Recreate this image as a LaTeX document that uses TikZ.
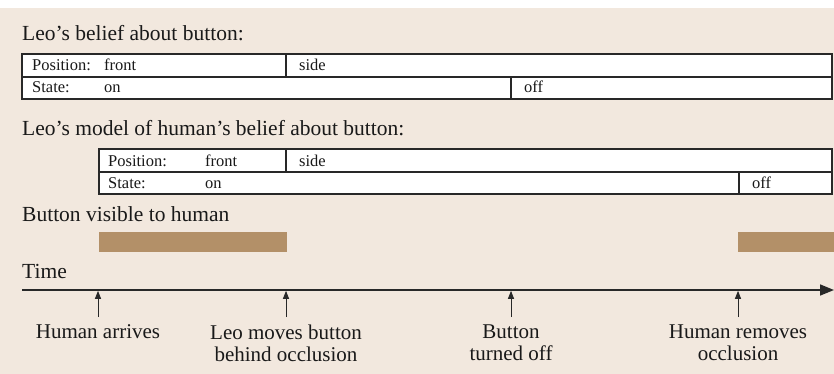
\documentclass[tikz,border=0pt]{standalone}
\usepackage{fontspec}
\setmainfont{Liberation Serif}
\usetikzlibrary{arrows.meta}
\definecolor{bg}{RGB}{242,232,222}
\definecolor{barc}{RGB}{179,144,104}
\definecolor{ln}{RGB}{40,40,40}
\definecolor{txt}{RGB}{25,25,25}
\begin{document}
\begin{tikzpicture}[x=1pt,y=-1pt,
  cell/.style={draw=ln, line width=1.1pt, fill=white},
  head/.style={anchor=base west, font=\fontsize{21.5}{24}\selectfont, inner sep=0pt, text=txt},
  tab/.style={anchor=base west, font=\fontsize{16.5}{18}\selectfont, inner sep=0pt, text=txt},
  lab/.style={anchor=north, align=center, font=\fontsize{21}{22}\selectfont, inner sep=0pt, outer ysep=8pt, text=txt},
  tick/.style={-{Triangle[length=8pt,width=6pt]}, line width=1pt, draw=ln},
  axis/.style={-{Triangle[length=14pt,width=11pt]}, line width=1.6pt, draw=ln},
  bar/.style={fill=barc}
  ]
\useasboundingbox (0,0) rectangle (834,374);
\fill[bg] (0,8) rectangle (834,374);

% Leo's belief
\node[head] (h1) at (22,41) {Leo’s belief about button:};
\draw[cell] (22,54) rectangle (286,77);
\draw[cell] (286,54) rectangle (832,77);
\draw[cell] (22,77) rectangle (511,99);
\draw[cell] (511,77) rectangle (832,99);
\node[tab] (p1) at (32,71) {Position:};
\node[tab] (p1f) at (104,71) {front};
\node[tab] (p1s) at (299,71) {side};
\node[tab] (s1) at (32,93) {State:};
\node[tab] (s1on) at (104,93) {on};
\node[tab] (s1off) at (524,93) {off};

% Leo's model of human's belief
\node[head] (h2) at (22,136) {Leo’s model of human’s belief about button:};
\draw[cell] (99,149) rectangle (286,172);
\draw[cell] (286,149) rectangle (832,172);
\draw[cell] (99,172) rectangle (739,194);
\draw[cell] (739,172) rectangle (832,194);
\node[tab] (p2) at (108,166) {Position:};
\node[tab] (p2f) at (205,166) {front};
\node[tab] (p2s) at (299,166) {side};
\node[tab] (s2) at (108,188) {State:};
\node[tab] (s2on) at (205,188) {on};
\node[tab] (s2off) at (752,188) {off};

% visibility
\node[head] (h3) at (22,221) {Button visible to human};
\fill[bar] (99,232) rectangle (287,252);
\fill[bar] (738,232) rectangle (834,252);

% time axis
\node[head] (h4) at (22,278) {Time};
\coordinate (a0) at (22,290);
\coordinate (a1) at (834,290);
\draw[axis] (a0) -- (a1);
\coordinate (t1) at (98,290.8);
\coordinate (t2) at (286,290.8);
\coordinate (t3) at (511,290.8);
\coordinate (t4) at (738,290.8);
\node[lab] (l1) at (98,317) {Human arrives};
\node[lab] (l2) at (286,317) {Leo moves button\\behind occlusion};
\node[lab] (l3) at (511,317) {Button\\turned off};
\node[lab] (l4) at (738,317) {Human removes\\occlusion};
\draw[tick] (l1.north) -- (t1);
\draw[tick] (l2.north) -- (t2);
\draw[tick] (l3.north) -- (t3);
\draw[tick] (l4.north) -- (t4);
\end{tikzpicture}
\end{document}
